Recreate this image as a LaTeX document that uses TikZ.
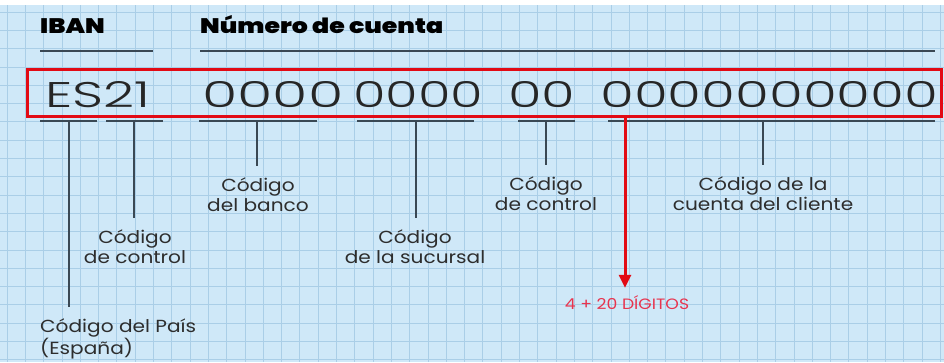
\documentclass[tikz,border=0pt]{standalone}
\usepackage{fontspec}
\setmainfont{Poppins}
\newfontfamily\labelfont[FakeStretch=1.15]{Poppins}
\newfontfamily\headfont[FakeStretch=1.2]{Poppins Black}
\newfontfamily\numfont{Poppins Light}
\usepackage{tikz}
\usetikzlibrary{arrows.meta}
\definecolor{gridbg}{RGB}{207,232,248}
\definecolor{gridline}{RGB}{170,206,231}
\definecolor{slate}{RGB}{58,72,84}
\definecolor{ibanred}{RGB}{226,10,20}
\definecolor{notered}{RGB}{232,52,78}
\definecolor{labelgray}{RGB}{45,45,45}

\newcommand{\ibangroup}[2]{\resizebox{#1}{26pt}{\numfont #2}}

\begin{document}
\begin{tikzpicture}[x=1pt, y=-1pt,
        head/.style={anchor=base west, inner sep=0pt, font=\headfont\fontsize{21}{24}\selectfont, text=black},
        group/.style={anchor=south west, inner sep=0pt, text=black!85},
        rule/.style={slate, line width=1.6pt},
        tick/.style={slate, line width=2pt, shorten >=12pt},
        caption/.style={align=center, inner sep=0pt, text=labelgray, font=\labelfont\fontsize{17.5}{20}\selectfont},
        arrow/.style={-{Triangle[length=13pt, width=12pt]}, ibanred, line width=3pt}]

        \useasboundingbox (0,0) rectangle (944,362);

        % Squared paper
        \fill[white] (0,0) rectangle (944,362);
        \fill[gridbg] (0,5) rectangle (944,362);
        \foreach \i in {0,...,51}
            \draw[gridline, line width=0.8pt] ({7+18.3*\i},5) -- ({7+18.3*\i},362);
        \foreach \j in {0,...,19}
            \draw[gridline, line width=0.8pt] (0,{12+18.3*\j}) -- (944,{12+18.3*\j});

        % Headers
        \node[head] (iban) at (40,33) {IBAN};
        \node[head] (numero) at (200,33) {Número de cuenta};
        \draw[rule] (40,51) -- (153,51);
        \draw[rule] (200,51) -- (935,51);

        % Account number
        \node[draw=ibanred, line width=3pt, minimum width=914pt, minimum height=47pt, inner sep=0pt] (box) at (484,92.5) {};
        \node[group] (es) at (45,108) {\ibangroup{105pt}{ES21}};
        \node[group] (banco num) at (202,108) {\ibangroup{141pt}{0000}};
        \node[group] (sucursal num) at (353,108) {\ibangroup{130pt}{0000}};
        \node[group] (control num) at (508,108) {\ibangroup{67pt}{00}};
        \node[group] (cuenta num) at (600,108) {\ibangroup{338pt}{0000000000}};

        % Brackets
        \draw[rule, line width=2pt] (40,121) -- (97,121);
        \draw[rule, line width=2pt] (106,121) -- (163,121);
        \draw[rule, line width=2pt] (199,121) -- (317,121);
        \draw[rule, line width=2pt] (357,121) -- (474,121);
        \draw[rule, line width=2pt] (518,121) -- (575,121);
        \draw[rule, line width=2pt] (608,121) -- (935,121);
        \coordinate (tpais) at (69,121);
        \coordinate (tctrlA) at (134,121);
        \coordinate (tbanco) at (257,121);
        \coordinate (tsucursal) at (416,121);
        \coordinate (tctrlB) at (546,121);
        \coordinate (tcuenta) at (763,121);

        % Labels
        \node[caption] (banco) at (258,195) {Código\\del banco};
        \node[caption] (ctrlA) at (135,247) {Código\\de control};
        \node[caption] (sucursal) at (415,247) {Código\\de la sucursal};
        \node[caption] (ctrlB) at (546,194) {Código\\de control};
        \node[caption] (cuenta) at (763,194) {Código de la\\cuenta del cliente};
        \node[caption, align=left, anchor=west, font=\labelfont\fontsize{17.5}{22}\selectfont] (pais) at (40,339) {Código del País\\(España)};
        \node[inner sep=0pt, text=notered, font=\labelfont\fontsize{15}{17}\selectfont] (digitos) at (627,303) {4 + 20 DÍGITOS};

        % Ticks
        \draw[tick] (tpais) -- (tpais |- pais.north);
        \draw[tick] (tctrlA) -- (tctrlA |- ctrlA.north);
        \draw[tick] (tbanco) -- (tbanco |- banco.north);
        \draw[tick] (tsucursal) -- (tsucursal |- sucursal.north);
        \draw[tick] (tctrlB) -- (tctrlB |- ctrlB.north);
        \draw[tick] (tcuenta) -- (tcuenta |- cuenta.north);

        \draw[arrow, shorten >=8pt] (box.south -| 625,0) -- (digitos.north -| 625,0);

    \end{tikzpicture}
\end{document}
